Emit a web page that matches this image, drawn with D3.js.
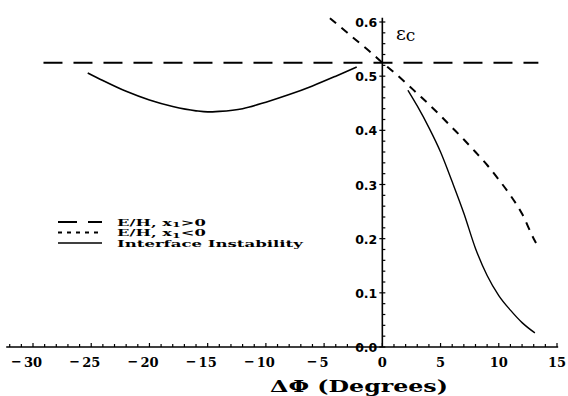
<!DOCTYPE html>
<html>
<head>
<meta charset="utf-8">
<script src="https://cdn.jsdelivr.net/npm/d3@7"></script>
<style>
  body{margin:0;background:#fff;}
  svg{display:block;}
</style>
</head>
<body>
<div id="chart"></div>
<script>
// values
var xTicks = [-30,-25,-20,-15,-10,-5,0,5,10,15];
var yTicks = [0.0,0.1,0.2,0.3,0.4,0.5,0.6];

// E/H, x1>0 (long dashes)
var ehPosX = [-29.1, 13.4];
var ehPosY = [0.525, 0.525];

// E/H, x1<0 (short dashes)
var ehNegX = [-4.5,-3,-2,-1,0,1,2,3,4,5,6,7,8,9,10,11,12,13,13.2];
var ehNegY = [0.607,0.580,0.562,0.544,0.525,0.507,0.488,0.468,0.448,0.427,0.405,0.383,0.360,0.336,0.309,0.280,0.246,0.200,0.192];

// Interface Instability, left branch and right branch
var iiLeftX = [-25.3,-24,-22,-20,-18,-16,-15,-14,-12,-10,-8,-6,-4,-2.2];
var iiLeftY = [0.506,0.492,0.472,0.456,0.444,0.436,0.434,0.435,0.440,0.452,0.466,0.482,0.500,0.517];
var iiRightX = [2.2,3,4,5,6,7,8,9,10,11,12,13.1];
var iiRightY = [0.474,0.445,0.405,0.360,0.305,0.247,0.182,0.132,0.095,0.068,0.045,0.026];

var legendNames = ["E/H, x", "E/H, x", "Interface Instability"];

var width=568, height=396;
var longDash="19,11", shortDash="8,7";

var svg = d3.select("#chart").append("svg")
    .attr("width",width)
    .attr("height",height);

var xScale = d3.scaleLinear().domain([-30,15]).range([33,557]);
var yScale = d3.scaleLinear().domain([0,0.6]).range([347,22]);

var line = d3.line()
    .x(function(d){return xScale(d[0]);})
    .y(function(d){return yScale(d[1]);})
    .curve(d3.curveMonotoneX);

function zip(a,b){ return a.map(function(v,i){return [v,b[i]];}); }

// x axis
var xg = svg.append("g").attr("transform","translate(0,"+yScale(0)+")");
xg.append("line")
    .attr("x1",xScale(-32.3)).attr("x2",xScale(15.1))
    .attr("stroke","#000").attr("stroke-width",1.6);
xg.selectAll(".minor")
    .data(d3.range(-32,16,1))
    .enter().append("line")
    .attr("x1",function(d){return xScale(d);})
    .attr("x2",function(d){return xScale(d);})
    .attr("y1",0)
    .attr("y2",function(d){return d%5===0 ? -4 : -3;})
    .attr("stroke","#000").attr("stroke-width",1.2);

var xl = svg.append("g")
    .attr("font-family","DejaVu Serif")
    .attr("font-weight","bold")
    .attr("font-size",13)
    .attr("fill","#000");
xTicks.forEach(function(t){
  var cx = xScale(t);
  var txt = xl.append("text")
      .attr("x",cx).attr("y",367)
      .attr("text-anchor","middle")
      .text(Math.abs(t));
  if(t<0){
    var w = txt.node().getComputedTextLength();
    xl.append("text")
      .attr("x",cx-w/2-2).attr("y",366)
      .attr("text-anchor","end")
      .text("\u2212");
  }
});

// x axis title
var xt = svg.append("text")
    .attr("font-family","DejaVu Serif")
    .attr("font-weight","bold")
    .attr("font-size",16)
    .attr("fill","#000")
    .text("\u0394\u03A6 (Degrees)");
var xtw = xt.node().getComputedTextLength();
var xts = 178/xtw;
xt.attr("transform","translate(270,392) scale("+xts+",1)");

// y axis
var yx = xScale(0);
var yg = svg.append("g");
yg.append("line")
    .attr("x1",yx).attr("x2",yx)
    .attr("y1",yScale(0)).attr("y2",yScale(0.608))
    .attr("stroke","#000").attr("stroke-width",1.6);
yg.selectAll(".minor")
    .data(d3.range(0,0.61,0.02))
    .enter().append("line")
    .attr("x1",function(d){return Math.abs(d*10-Math.round(d*10))<1e-6 ? yx-3 : yx;})
    .attr("x2",function(d){return yx+3;})
    .attr("y1",function(d){return yScale(d);})
    .attr("y2",function(d){return yScale(d);})
    .attr("stroke","#000").attr("stroke-width",1.2);
yg.selectAll(".lab")
    .data(yTicks)
    .enter().append("text")
    .attr("x",yx-5)
    .attr("y",function(d){return yScale(d)+5;})
    .attr("text-anchor","end")
    .attr("font-family","DejaVu Sans")
    .attr("font-weight","bold")
    .attr("font-size",12.5)
    .attr("fill","#000")
    .text(function(d){return d.toFixed(1);});

// y axis label
var yl = svg.append("text")
    .attr("x",396).attr("y",40)
    .attr("font-family","DejaVu Serif")
    .attr("font-size",19)
    .attr("fill","#000");
yl.append("tspan").text("\u03B5");
yl.append("tspan").attr("font-size",17).attr("dy",1).text("c");

// curves
var g = svg.append("g").attr("fill","none").attr("stroke","#000");
g.append("path")
    .attr("d",line(zip(ehPosX,ehPosY)))
    .attr("stroke-width",2)
    .attr("stroke-dasharray",longDash);
g.append("path")
    .attr("d",line(zip(ehNegX,ehNegY)))
    .attr("stroke-width",2)
    .attr("stroke-dasharray",shortDash);
g.append("path")
    .attr("d",line(zip(iiLeftX,iiLeftY)))
    .attr("stroke-width",1.6);
g.append("path")
    .attr("d",line(zip(iiRightX,iiRightY)))
    .attr("stroke-width",1.4);

// legend
var legY = [222,232.5,243];
var dashes = [longDash, "4,5", null];
var legWidths = [89,89,186];
var leg = svg.append("g");
legendNames.forEach(function(name,i){
  var l = leg.append("line")
      .attr("x1",58).attr("x2",102)
      .attr("y1",legY[i]).attr("y2",legY[i])
      .attr("stroke","#000")
      .attr("stroke-width",i===2 ? 1.6 : 2);
  if(dashes[i]) l.attr("stroke-dasharray",dashes[i]);
  var t = leg.append("text")
      .attr("font-family","DejaVu Serif")
      .attr("font-weight","bold")
      .attr("font-size",8.5)
      .attr("fill","#000");
  t.append("tspan").text(name);
  if(i<2){
    t.append("tspan").attr("font-size",6.5).attr("dy",1.5).text("1");
    t.append("tspan").attr("dy",-1.5).text(i===0 ? ">0" : "<0");
  }
  var w = t.node().getComputedTextLength();
  t.attr("transform","translate(117,"+(legY[i]+3.5)+") scale("+(legWidths[i]/w)+",1)");
});
</script>
</body>
</html>
